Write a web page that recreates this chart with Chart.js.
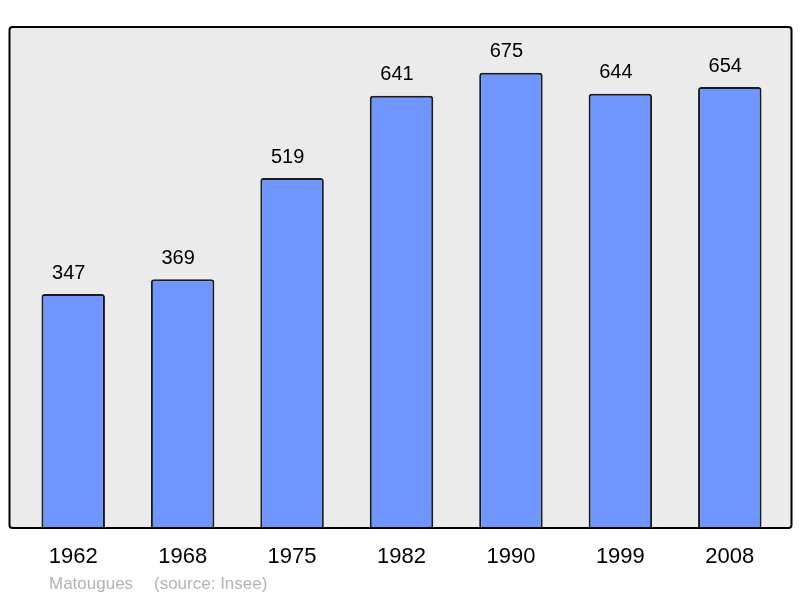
<!DOCTYPE html>
<html><head><meta charset="utf-8">
<script src="https://cdn.jsdelivr.net/npm/chart.js@4"></script>
<style>html,body{margin:0;padding:0;background:#fff}#wrap{width:800px;height:598px}</style>
</head><body><div id="wrap"><canvas id="c" width="800" height="598"></canvas></div>
<script>
const years = ['1962','1968','1975','1982','1990','1999','2008'];
const population = [347,369,519,641,675,644,654];
const footerName = 'Matougues';
const footerSource = '(source: Insee)';

const decor = {
  id:'decor',
  beforeDatasetsDraw(chart){
    const {ctx, chartArea:a} = chart;
    ctx.save();
    const x0=a.left-9, x1=a.right+7, y0=a.top, y1=a.bottom;
    ctx.beginPath();
    ctx.roundRect(x0,y0,x1-x0,y1-y0,3);
    ctx.fillStyle='#ebebeb';
    ctx.fill();
    ctx.restore();
  },
  afterDatasetsDraw(chart){
    const {ctx, chartArea:a, scales} = chart;
    ctx.save();
    const x0=a.left-9, x1=a.right+7, y0=a.top, y1=a.bottom;
    ctx.beginPath();
    ctx.roundRect(x0,y0,x1-x0,y1-y0,3);
    ctx.lineWidth=2;
    ctx.strokeStyle='#000';
    ctx.stroke();
    ctx.fillStyle='#000';
    ctx.textAlign='center';
    ctx.textBaseline='middle';
    ctx.font='20px "Liberation Sans", Arial, sans-serif';
    population.forEach((v,i)=>{
      const x=scales.x.getPixelForValue(i);
      const y=scales.y.getPixelForValue(v);
      ctx.fillText(String(v), x-4.5, y-21);
    });
    ctx.font='22px "Liberation Sans", Arial, sans-serif';
    years.forEach((yr,i)=>{
      ctx.fillText(yr, scales.x.getPixelForValue(i), a.bottom+29);
    });
    ctx.fillStyle='#b3b3b3';
    ctx.textAlign='left';
    ctx.font='17px "Liberation Sans", Arial, sans-serif';
    ctx.fillText(footerName, 49, 584);
    ctx.fillText(footerSource, 154, 584);
    ctx.restore();
  }
};

new Chart(document.getElementById('c'), {
  type:'bar',
  data:{labels:years, datasets:[{data:population, backgroundColor:'#6f96ff', borderColor:'#1a1a1a', borderWidth:2, borderSkipped:'bottom', borderRadius:3, categoryPercentage:1, barPercentage:0.58}]},
  options:{
    responsive:false, animation:false, devicePixelRatio:1,
    layout:{padding:{left:18.5, right:15.5, top:27, bottom:70}},
    plugins:{legend:{display:false}, tooltip:{enabled:false}},
    scales:{
      x:{display:false},
      y:{display:false, min:0, max:743}
    }
  },
  plugins:[decor]
});
</script></body></html>
